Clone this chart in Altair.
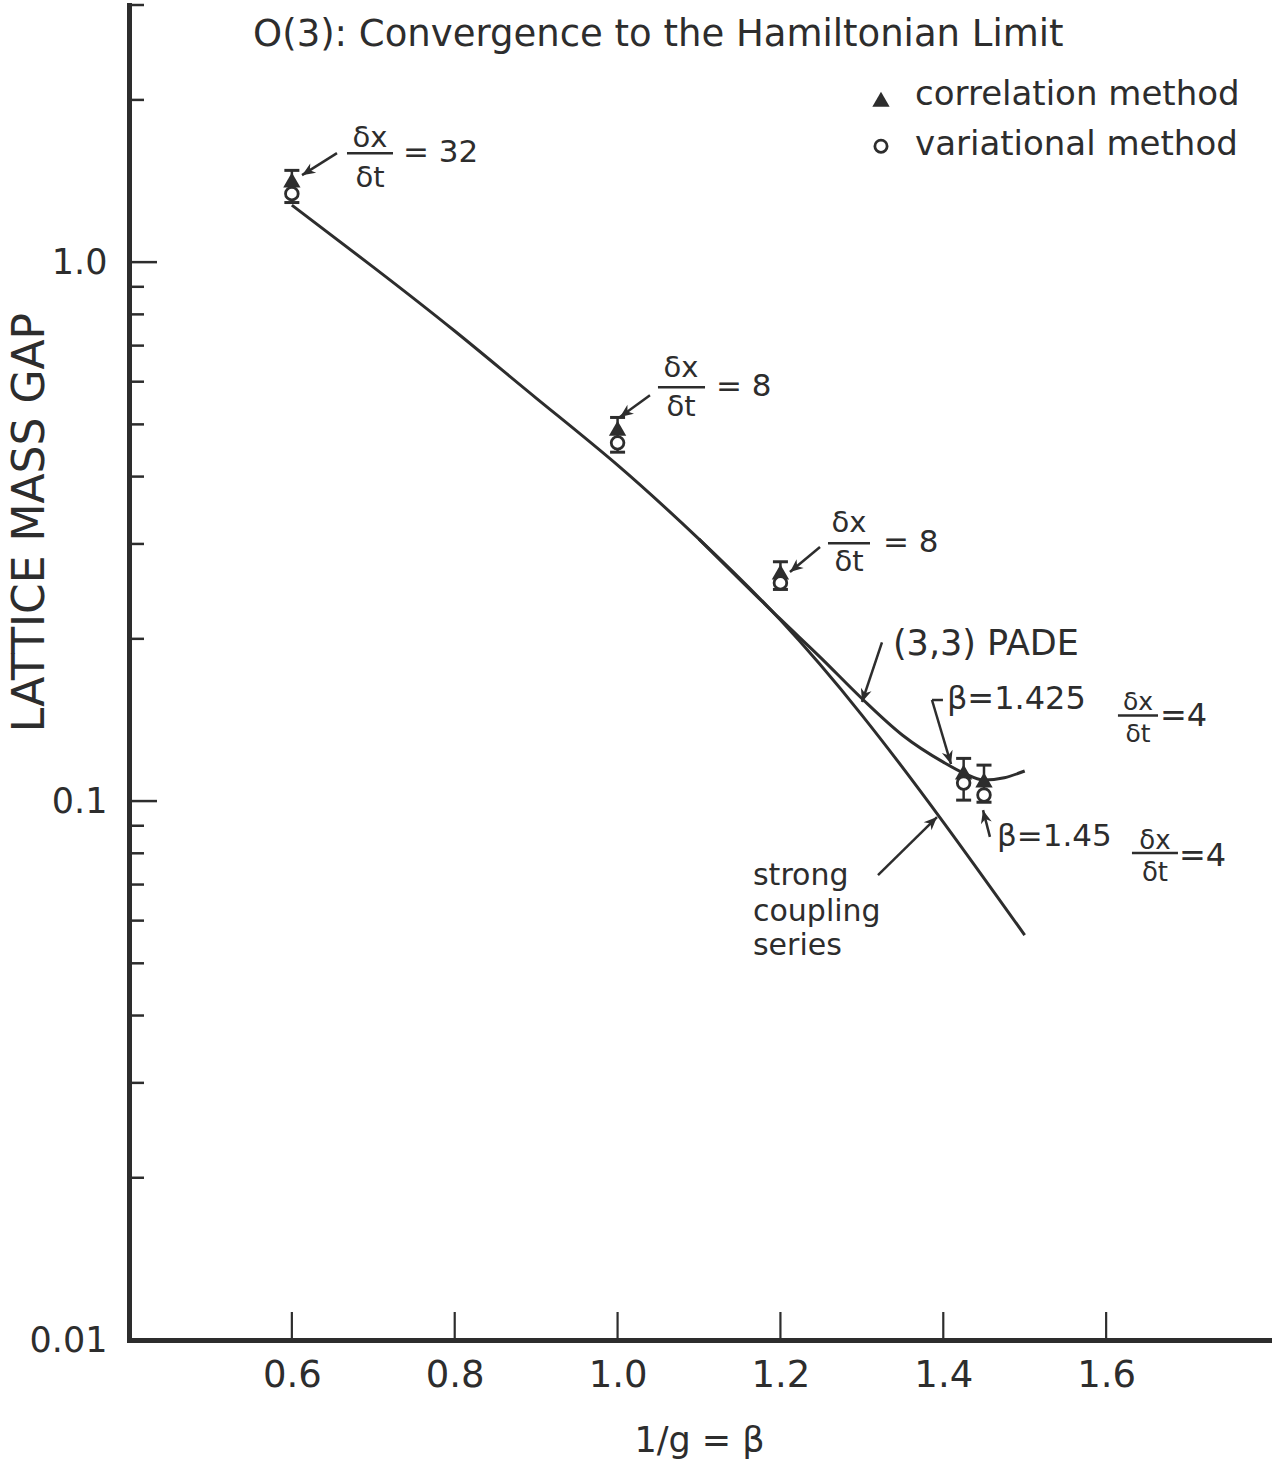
import math
import altair as alt
import pandas as pd

INK = "#2d2d2d"
FONT = "DejaVu Sans"

# ---------------- data ----------------
beta_pts = [0.6, 1.0, 1.2, 1.425, 1.45]
corr_gap = [1.42, 0.492, 0.266, 0.1132, 0.1094]      # correlation method (triangles)
var_gap = [1.34, 0.462, 0.254, 0.108, 0.1026]        # variational method (circles)
err_low = [1.29, 0.444, 0.247, 0.1004, 0.0995]
err_high = [1.48, 0.515, 0.278, 0.120, 0.1166]

sc_beta = [0.6, 0.7, 0.8, 0.9, 1.0, 1.1, 1.2, 1.3, 1.4, 1.5]
sc_gap = [1.276, 0.979, 0.745, 0.5595, 0.4201, 0.3063, 0.2167, 0.1444, 0.0914, 0.0564]

pade_beta = [1.1, 1.2, 1.25, 1.3, 1.35, 1.4, 1.425, 1.45, 1.475, 1.5]
pade_gap = [0.3063, 0.2175, 0.1842, 0.155, 0.1325, 0.1181, 0.1127, 0.1094, 0.1105, 0.1137]

x_tick_values = [0.6, 0.8, 1.0, 1.2, 1.4, 1.6]
y_major_ticks = [0.01, 0.1, 1.0]
y_minor_ticks = [0.02, 0.03, 0.04, 0.05, 0.06, 0.07, 0.08, 0.09,
                 0.2, 0.3, 0.4, 0.5, 0.6, 0.7, 0.8, 0.9, 2.0, 3.0]

# ---------------- annotations (data coordinates) ----------------
texts_center = [
    ("O(3): Convergence to the Hamiltonian Limit", 1.05, 2.64, 37),
    ("δx", 0.696, 1.698, 29), ("δt", 0.696, 1.432, 29),
    ("δx", 1.0779, 0.636, 29), ("δt", 1.0779, 0.538, 29),
    ("δx", 1.2842, 0.328, 29), ("δt", 1.2842, 0.2775, 29),
    ("δx", 1.6391, 0.1527, 25), ("δt", 1.6391, 0.1331, 25),
    ("δx", 1.660, 0.0842, 26), ("δt", 1.660, 0.0734, 26),
]
texts_left = [
    ("correlation  method", 1.3653, 2.04, 34),
    ("variational  method", 1.3653, 1.648, 34),
    ("= 32", 0.7365, 1.593, 31),
    ("= 8", 1.1209, 0.586, 31),
    ("= 8", 1.326, 0.301, 31),
    ("=4", 1.666, 0.1438, 32),
    ("=4", 1.6894, 0.0791, 32),
    ("(3,3) PADE", 1.3382, 0.1956, 35),
    ("β=1.425", 1.4045, 0.1547, 32),
    ("β=1.45", 1.466, 0.0858, 31),
    ("strong", 1.1663, 0.0726, 30),
    ("coupling", 1.1663, 0.0622, 30),
    ("series", 1.1663, 0.0538, 30),
]
frac_bars = [(0.6677, 0.7242, 1.593), (1.0496, 1.1074, 0.586), (1.2584, 1.31, 0.301),
             (1.6145, 1.6637, 0.1442), (1.6317, 1.6882, 0.0801)]
arrows = [  # tail -> head
    (0.6554, 1.593, 0.6125, 1.450),
    (1.0398, 0.5665, 1.003, 0.516),
    (1.2486, 0.296, 1.2117, 0.266),
    (1.3247, 0.197, 1.3002, 0.1527),
    (1.3861, 0.154, 1.4095, 0.1171),
    (1.4573, 0.0858, 1.4488, 0.0962),
    (1.3198, 0.0729, 1.3923, 0.0934),
]
bracket = [(1.3861, 1.3996, 0.154)]
legend_marks = [("tri", 1.3235, 2.006), ("circ", 1.3235, 1.641)]

# ---------------- scales & axes ----------------
W, H = 1140, 1335
X_DOM = [0.4, 1.8]
Y_DOM = [0.01, 3.0]
xs = alt.Scale(domain=X_DOM, nice=False, zero=False)
ys = alt.Scale(type="log", domain=Y_DOM, nice=False)

x_axis = alt.Axis(values=x_tick_values, format=".1f", ticks=False, grid=False,
                  domainColor=INK, domainWidth=5, domainCap="square",
                  labelFont=FONT, labelFontSize=37, labelColor=INK, labelPadding=17,
                  labelFlush=False,
                  titleFont=FONT, titleFontSize=35, titleFontWeight="normal",
                  titleColor=INK, titlePadding=30)
y_axis = alt.Axis(values=y_major_ticks,
                  labelExpr="datum.value >= 1 ? '1.0' : (datum.value >= 0.1 ? '0.1' : '0.01')",
                  ticks=False, grid=False, domainColor=INK, domainWidth=5, domainCap="square",
                  labelFont=FONT, labelFontSize=35, labelColor=INK, labelPadding=22,
                  labelFlush=False,
                  titleFont=FONT, titleFontSize=44, titleFontWeight="normal", titleColor=INK,
                  titleX=-99, titleY=517, titleAngle=270, titleAlign="center",
                  titleBaseline="middle")
X_TITLE = "1/g = β"
Y_TITLE = "LATTICE MASS GAP"


def sx(v):
    return (v - X_DOM[0]) / (X_DOM[1] - X_DOM[0]) * W


def sy(v):
    l0, l1 = math.log10(Y_DOM[0]), math.log10(Y_DOM[1])
    return (l1 - math.log10(v)) / (l1 - l0) * H


def X(f="x"):
    return alt.X(f"{f}:Q", scale=xs, axis=x_axis, title=X_TITLE)


def Y(f="y"):
    return alt.Y(f"{f}:Q", scale=ys, axis=y_axis, title=Y_TITLE)


# ---------------- layers ----------------
strong = alt.Chart(pd.DataFrame({"x": sc_beta, "y": sc_gap})).mark_line(
    color=INK, strokeWidth=3, interpolate="natural").encode(x=X(), y=Y())
pade = alt.Chart(pd.DataFrame({"x": pade_beta, "y": pade_gap})).mark_line(
    color=INK, strokeWidth=3, interpolate="monotone").encode(x=X(), y=Y())

xt = alt.Chart(pd.DataFrame({"x": x_tick_values})).mark_rule(color=INK, strokeWidth=2.2).encode(
    x=X(), y=alt.value(H), y2=alt.value(H - 28))
yt_major = alt.Chart(pd.DataFrame({"y": y_major_ticks})).mark_rule(color=INK, strokeWidth=2.5).encode(
    y=Y(), x=alt.value(0), x2=alt.value(28))
yt_minor = alt.Chart(pd.DataFrame({"y": y_minor_ticks})).mark_rule(color=INK, strokeWidth=2.5).encode(
    y=Y(), x=alt.value(0), x2=alt.value(15))

pts = pd.DataFrame({"x": beta_pts, "corr": corr_gap, "var": var_gap,
                    "lo": err_low, "hi": err_high})
ebar = alt.Chart(pts).mark_rule(color=INK, strokeWidth=2.5).encode(x=X(), y=Y("lo"), y2="hi:Q")
cap_shape = "M-1,0L1,0"
cap_lo = alt.Chart(pts).mark_point(shape=cap_shape, filled=False, color=INK, strokeWidth=3,
                                   size=225, opacity=1).encode(x=X(), y=Y("lo"))
cap_hi = alt.Chart(pts).mark_point(shape=cap_shape, filled=False, color=INK, strokeWidth=3,
                                   size=225, opacity=1).encode(x=X(), y=Y("hi"))
tri = alt.Chart(pts).mark_point(shape="triangle-up", filled=True, color=INK, size=300,
                                opacity=1).encode(x=X(), y=Y("corr"))
circ = alt.Chart(pts).mark_point(shape="circle", filled=False, fill="white", stroke=INK,
                                 strokeWidth=2.8, size=160, opacity=1).encode(x=X(), y=Y("var"))

lg = pd.DataFrame(legend_marks, columns=["k", "x", "y"])
lg_tri = alt.Chart(lg[lg.k == "tri"]).mark_point(shape="triangle-up", filled=True, color=INK,
                                                 size=300, opacity=1).encode(x=X(), y=Y())
lg_circ = alt.Chart(lg[lg.k == "circ"]).mark_point(shape="circle", filled=False, fill="white",
                                                   stroke=INK, strokeWidth=2.8, size=150,
                                                   opacity=1).encode(x=X(), y=Y())

tc = pd.DataFrame(texts_center, columns=["text", "x", "y", "fs"])
tl = pd.DataFrame(texts_left, columns=["text", "x", "y", "fs"])
txt_c = alt.Chart(tc).mark_text(font=FONT, color=INK, align="center", baseline="middle").encode(
    x=X(), y=Y(), text="text:N", size=alt.Size("fs:Q", scale=None, legend=None))
txt_l = alt.Chart(tl).mark_text(font=FONT, color=INK, align="left", baseline="middle").encode(
    x=X(), y=Y(), text="text:N", size=alt.Size("fs:Q", scale=None, legend=None))

fb = pd.DataFrame(frac_bars, columns=["x", "x2", "y"])
fbars = alt.Chart(fb).mark_rule(color=INK, strokeWidth=2.5).encode(x=X(), x2="x2:Q", y=Y())
br = pd.DataFrame(bracket, columns=["x", "x2", "y"])
brk = alt.Chart(br).mark_rule(color=INK, strokeWidth=2.5).encode(x=X(), x2="x2:Q", y=Y())

ar = pd.DataFrame(arrows, columns=["x", "y", "x2", "y2"])
ar["angle"] = [
    (math.degrees(math.atan2(sy(r.y2) - sy(r.y), sx(r.x2) - sx(r.x))) + 360) % 360
    for r in ar.itertuples()
]
arrow_lines = alt.Chart(ar).mark_rule(color=INK, strokeWidth=2.5).encode(
    x=X(), y=Y(), x2="x2:Q", y2="y2:Q")
head_shape = "M0,0L-1,-0.42L-0.7,0L-1,0.42Z"
arrow_heads = alt.Chart(ar).mark_point(shape=head_shape, filled=True, color=INK, size=700,
                                       opacity=1).encode(
    x=X("x2"), y=Y("y2"), angle=alt.Angle("angle:Q", scale=None))

chart = alt.layer(
    strong, pade, xt, yt_major, yt_minor, ebar, cap_lo, cap_hi, tri, circ,
    lg_tri, lg_circ, txt_c, txt_l, fbars, brk, arrow_lines, arrow_heads,
).properties(
    width=W, height=H,
    autosize=alt.AutoSizeParams(type="none"),
    padding={"left": 129, "top": 5, "right": 10, "bottom": 122},
    background="white",
).configure(font=FONT).configure_view(strokeWidth=0)

chart.save("out.html", embed_options={"renderer": "svg", "actions": False})
